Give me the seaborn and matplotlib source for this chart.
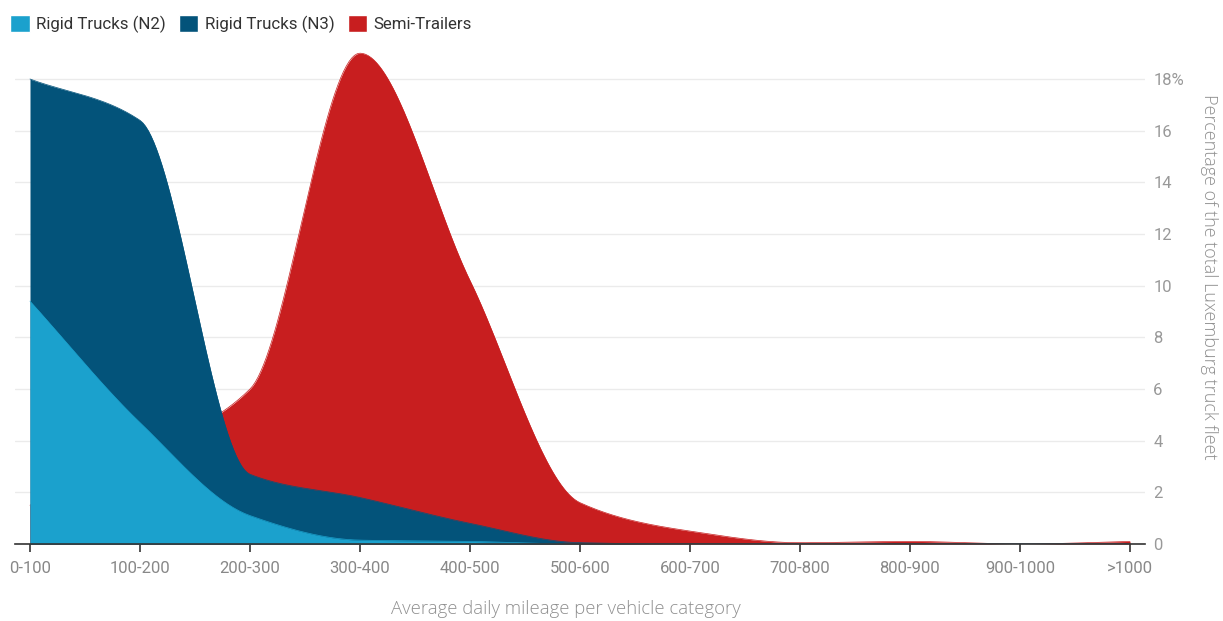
import matplotlib
matplotlib.use("Agg")
import matplotlib.pyplot as plt
import numpy as np
import pandas as pd
import seaborn as sns
from matplotlib.patches import Patch

# categories and values (percent of fleet)
categories = ["0-100", "100-200", "200-300", "300-400", "400-500", "500-600",
              "600-700", "700-800", "800-900", "900-1000", ">1000"]
rigid_n2 = [9.4, 4.7, 1.1, 0.15, 0.1, 0.0, 0.0, 0.0, 0.0, 0.0, 0.0]
rigid_n3 = [18.0, 16.4, 2.7, 1.8, 0.8, 0.05, 0.0, 0.0, 0.0, 0.0, 0.0]
semi_trailers = [1.5, 3.5, 6.0, 19.0, 10.2, 1.6, 0.5, 0.05, 0.1, 0.0, 0.1]
yticks = [0, 2, 4, 6, 8, 10, 12, 14, 16, 18]

C_N2 = "#1ba1cd"
C_N3 = "#03537a"
C_SEMI = "#c81e1f"


def monotone(y, n=40):
    """Monotone cubic (Fritsch-Carlson) curve through the points, for drawing."""
    y = np.asarray(y, dtype=float)
    x = np.arange(len(y), dtype=float)
    d = np.diff(y)
    m = np.zeros_like(y)
    m[0], m[-1] = d[0], d[-1]
    for i in range(1, len(y) - 1):
        if d[i - 1] * d[i] > 0:
            m[i] = 2.0 / (1.0 / d[i - 1] + 1.0 / d[i])
    xs, ys = [], []
    for i in range(len(y) - 1):
        t = np.linspace(0, 1, n, endpoint=False)
        h00 = 2 * t**3 - 3 * t**2 + 1
        h10 = t**3 - 2 * t**2 + t
        h01 = -2 * t**3 + 3 * t**2
        h11 = t**3 - t**2
        xs.append(x[i] + t)
        ys.append(h00 * y[i] + h10 * m[i] + h01 * y[i + 1] + h11 * m[i + 1])
    xs.append([x[-1]])
    ys.append([y[-1]])
    return np.concatenate(xs), np.clip(np.concatenate(ys), 0, None)


sns.set_theme(style="white")
plt.rcParams["font.family"] = ["Roboto", "DejaVu Sans"]

fig = plt.figure(figsize=(12.23, 6.21), dpi=100)
ax = fig.add_axes([15 / 1223, 1 - 544 / 621, 1130 / 1223, 496 / 621])

series = [("Semi-Trailers", semi_trailers, C_SEMI),
          ("Rigid Trucks (N3)", rigid_n3, C_N3),
          ("Rigid Trucks (N2)", rigid_n2, C_N2)]
for name, vals, col in series:
    xs, ys = monotone(vals)
    df = pd.DataFrame({"x": xs, "y": ys})
    sns.lineplot(data=df, x="x", y="y", ax=ax, color=col, linewidth=0.5)
    ax.fill_between(df["x"], 0, df["y"], color=col, linewidth=0, zorder=2)

xpad = 15 / 110
ax.set_xlim(-xpad, len(categories) - 1 + xpad)
ax.set_ylim(0, 19.2)
ax.set_xticks(range(len(categories)))
ax.set_xticklabels(categories)
ax.set_yticks(yticks)
ax.set_yticklabels([str(v) if v != 18 else "18%" for v in yticks])
ax.yaxis.tick_right()
ax.grid(axis="y", color="#ebebeb", linewidth=1)
ax.set_axisbelow(True)
for s in ["top", "left", "right"]:
    ax.spines[s].set_visible(False)
ax.spines["bottom"].set_color("#333333")
ax.spines["bottom"].set_linewidth(1.2)
ax.spines["bottom"].set_zorder(5)
ax.tick_params(axis="x", bottom=True, length=6, width=1.2, color="#333333",
               labelsize=12, labelcolor="#888888", pad=6)
ax.tick_params(axis="y", right=True, length=0, labelsize=12,
               labelcolor="#999999", pad=6)
ax.set_xlabel("")
ax.set_ylabel("")

title_font = ["Open Sans", "DejaVu Sans"]
fig.text(566 / 1223, 1 - 609 / 621, "Average daily mileage per vehicle category",
         ha="center", va="center", fontsize=13.3, color="#8f8f8f",
         fontweight="light", family=title_font)
fig.text(1209 / 1223, 1 - 277 / 621, "Percentage of the total Luxemburg truck fleet",
         ha="center", va="center", rotation=-90, fontsize=13.0, color="#8f8f8f",
         fontweight="light", family=title_font)

handles = [Patch(facecolor=C_N2, label="Rigid Trucks (N2)"),
           Patch(facecolor=C_N3, label="Rigid Trucks (N3)"),
           Patch(facecolor=C_SEMI, label="Semi-Trailers")]
fig.legend(handles=handles, loc="upper left", bbox_to_anchor=(0.0, 1 - 5 / 621),
           ncol=3, frameon=False, fontsize=12.2, handlelength=1.15,
           handleheight=1.15, handletextpad=0.4, columnspacing=0.75,
           borderaxespad=0.2, labelcolor="#333333")

fig.savefig("out.png", dpi=100)
